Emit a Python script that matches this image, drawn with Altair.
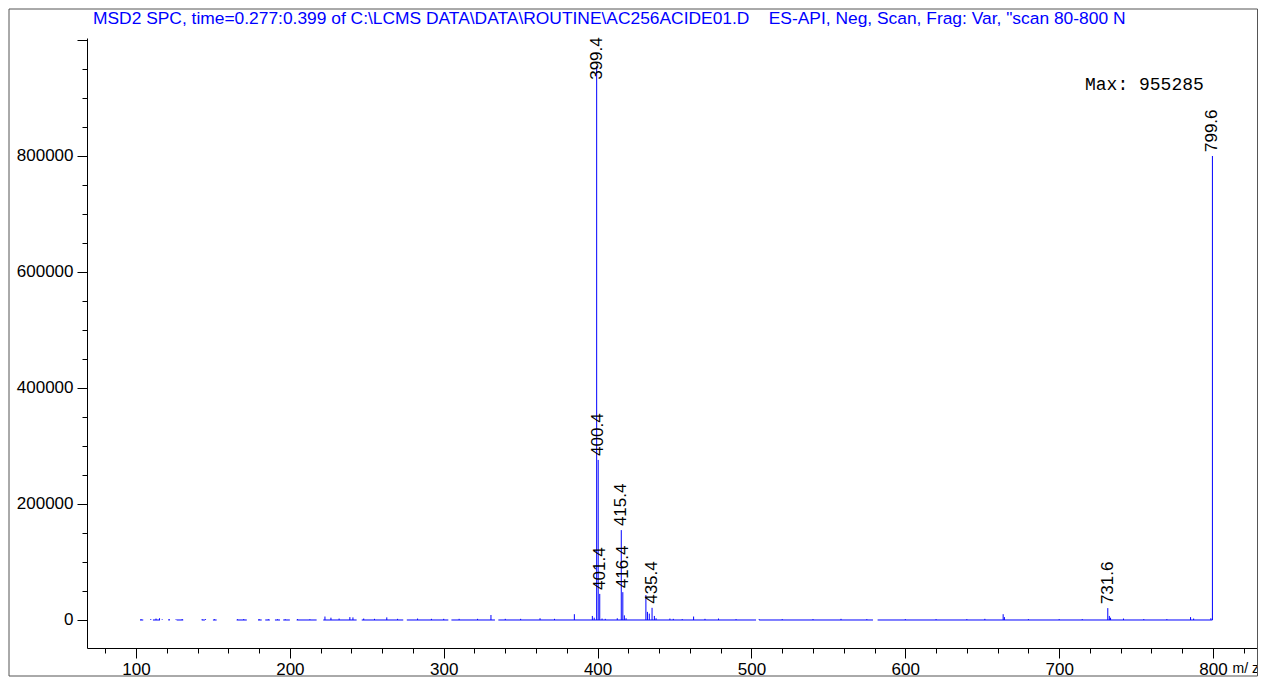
import altair as alt
import pandas as pd
import numpy as np

# ---- text ----
TITLE = ('MSD2 SPC, time=0.277:0.399 of C:\\LCMS DATA\\DATA\\ROUTINE\\AC256ACIDE01.D'
         + '\u00a0' * 4 + 'ES-API, Neg, Scan, Frag: Var, "scan 80-800 N')
X_TITLE = 'm/ z'

# ---- main ions (m/z, abundance) ----
main_mz = [399.4, 400.4, 401.4, 415.4, 416.4, 431.4, 435.4, 731.6, 799.6]
main_int = [955285, 276000, 45000, 155000, 48000, 43000, 21000, 20500, 800000]

# ---- labelled ions ----
label_mz = [399.4, 400.4, 401.4, 415.4, 416.4, 435.4, 731.6, 799.6]
label_int = [955285, 276000, 45000, 155000, 48000, 21000, 20500, 800000]

# ---- small (noise) ions ----
noise_mz = [103.3, 109.6, 113.0, 115.3, 117.0, 121.5, 126.0, 130.0, 143.0, 145.2,
            151.0, 166.0, 170.0, 180.0, 186.0, 192.0, 197.0, 205.0, 213.0, 222.8,
            226.7, 232.0, 239.0, 241.0, 248.0, 255.0, 263.0, 270.0, 283.0, 292.0,
            300.0, 310.0, 322.0, 330.7, 340.0, 350.0, 362.6, 372.0, 384.9, 396.6,
            397.8, 402.9, 405.0, 412.8, 417.4, 418.5, 432.4, 433.6, 436.9, 438.0,
            447.0, 449.2, 455.0, 462.4, 469.8, 478.6, 490.0, 505.0, 520.0, 540.0,
            558.2, 575.0, 600.0, 620.0, 640.0, 651.7, 663.6, 664.4, 680.0, 700.0,
            715.0, 732.6, 733.4, 741.8, 755.0, 770.0, 785.4, 787.4, 798.6]
noise_int = [1200, 1500, 2500, 3000, 1200, 1500, 1200, 1500, 1200, 1500,
             1200, 1200, 1500, 1500, 1200, 1200, 1200, 1500, 1200, 6000,
             4000, 2500, 5000, 4500, 2500, 2000, 4500, 2000, 2500, 2000,
             2000, 2000, 2000, 8600, 2000, 2000, 3000, 2000, 10000, 7000,
             4000, 2500, 2000, 3000, 8000, 3000, 14000, 11000, 7000, 3000,
             2500, 2000, 1500, 6000, 2000, 2500, 1500, 1500, 1500, 1500,
             2000, 1500, 1500, 1500, 1500, 2000, 10000, 5000, 1500, 1500,
             1500, 7000, 4000, 2500, 1500, 1500, 5000, 2500, 3000]

# ---- baseline runs (m/z ranges where ions were recorded) ----
base_start = [102.6, 111.0, 121.0, 126.4, 142.7, 150.0, 165.4, 179.3, 184.0, 190.3,
              195.7, 204.4, 221.7, 246.7, 276.0, 305.0, 335.5, 505.0, 582.0]
base_end = [104.7, 115.6, 122.0, 130.7, 144.8, 152.4, 172.0, 181.7, 187.0, 193.6,
            200.0, 217.4, 243.4, 273.7, 303.0, 333.3, 503.0, 579.0, 799.6]

# ---- axes ----
X_DOMAIN = [68.15, 829.23]
Y_DOMAIN = [-48276, 1003448]
x_major = list(range(100, 801, 100))
x_minor = list(range(80, 821, 20))
y_major = list(range(0, 1000001, 200000))
y_minor = list(range(0, 1000001, 50000))

FONT = 'Liberation Sans'
BLUE = '#0000ff'

sticks_df = pd.DataFrame({
    'mz': main_mz + noise_mz,
    'intensity': main_int + noise_int,
})
sticks_df['zero'] = 0

base_df = pd.DataFrame({'start': base_start, 'end': base_end})
base_df['zero'] = 0

lab_df = pd.DataFrame({'mz': label_mz, 'intensity': label_int})
lab_df['label'] = [f'{m:.1f}' for m in label_mz]
# keep the label inside the plot (the tallest one is pushed down)
lab_df['anchor'] = np.minimum(lab_df['intensity'], Y_DOMAIN[1] - 79000)

max_df = pd.DataFrame({'t': [f'Max: {max(main_int)}']})
title_df = pd.DataFrame({'t': [TITLE]})

xs = alt.Scale(domain=X_DOMAIN, nice=False, zero=False)
ys = alt.Scale(domain=Y_DOMAIN, nice=False, zero=False)

x_axis_major = alt.Axis(
    orient='bottom', values=x_major, tickSize=10, format='d',
    labelOverlap=False, labelFlush=False,
    labelFontSize=17, labelFont=FONT, labelColor='black', labelPadding=3,
    domainColor='black', tickColor='black', grid=False,
    title=X_TITLE, titleFont=FONT, titleFontSize=14, titleFontWeight='normal',
    titleColor='black', titleAlign='left', titleBaseline='middle',
    titleX=1145, titleY=20, titleAngle=0,
)
y_axis_major = alt.Axis(
    orient='left', values=y_major, tickSize=10, format='d',
    labelExpr="datum.value < 1000000 ? datum.label : ''",
    labelOverlap=False, labelFlush=False,
    labelFontSize=17, labelFont=FONT, labelColor='black', labelPadding=4,
    domainColor='black', tickColor='black', grid=False, title=None,
)
x_axis_minor = alt.Axis(
    orient='bottom', values=x_minor, tickSize=5, labels=False, domain=False,
    tickColor='black', grid=False, title=None,
)
y_axis_minor = alt.Axis(
    orient='left', values=y_minor, tickSize=5, labels=False, domain=False,
    tickColor='black', grid=False, title=None,
)

frame = alt.Chart(pd.DataFrame({'k': [0]})).mark_rect(
    filled=False, stroke='#555555', strokeWidth=1
).encode(
    x=alt.value(-78), x2=alt.value(1170.5), y=alt.value(-29), y2=alt.value(638)
)

title_txt = alt.Chart(title_df).mark_text(
    align='left', baseline='middle', font=FONT, fontSize=17.4, color=BLUE
).encode(
    x=alt.value(6), y=alt.value(-19.5), text='t:N'
)

baseline = alt.Chart(base_df).mark_rule(color=BLUE, strokeWidth=1).encode(
    x=alt.X('start:Q', scale=xs, axis=x_axis_major),
    x2='end:Q',
    y=alt.Y('zero:Q', scale=ys, axis=y_axis_major),
)

sticks = alt.Chart(sticks_df).mark_rule(color=BLUE, strokeWidth=1).encode(
    x=alt.X('mz:Q', scale=xs, axis=x_axis_minor),
    y=alt.Y('zero:Q', scale=ys, axis=y_axis_minor),
    y2='intensity:Q',
)

labels = alt.Chart(lab_df).mark_text(
    angle=270, align='left', baseline='middle', dx=4,
    fontSize=17, font=FONT, color='black'
).encode(
    x=alt.X('mz:Q', scale=xs, axis=None),
    y=alt.Y('anchor:Q', scale=ys, axis=None),
    text='label:N',
)

max_txt = alt.Chart(max_df).mark_text(
    align='left', baseline='middle', font='Liberation Mono', fontSize=18, color='black'
).encode(
    x=alt.value(998), y=alt.value(47), text='t:N'
)

chart = alt.layer(frame, title_txt, baseline, sticks, labels, max_txt).resolve_axis(
    x='independent', y='independent'
).properties(
    width=1171, height=610,
    padding={'left': 79, 'top': 30, 'right': 0, 'bottom': 30},
    autosize=alt.AutoSizeParams(type='none'),
).configure_view(stroke=None)

chart.save('out.html', embed_options={'renderer': 'svg', 'actions': False})
